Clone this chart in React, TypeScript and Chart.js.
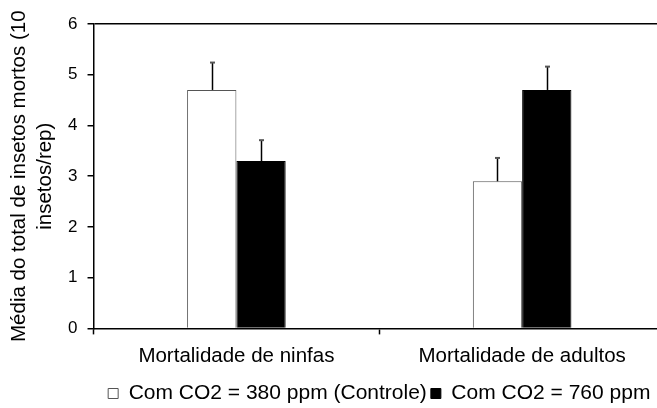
import React, { useEffect, useRef } from "react";
import { Chart, registerables } from "chart.js";

Chart.register(...registerables);

const categories = ["Mortalidade de ninfas", "Mortalidade de adultos"];
const seriesNames = ["Com CO2 = 380 ppm (Controle)", "Com CO2 = 760 ppm"];
const values380 = [4.7, 2.9];
const errors380 = [0.54, 0.46];
const values760 = [3.3, 4.7];
const errors760 = [0.41, 0.46];
const yMin = 0;
const yMax = 6;
const yStep = 1;
const yTitle = ["Média do total de insetos mortos (10", "insetos/rep)"];

const FONT = "'Liberation Sans', Arial, sans-serif";

const errorBarPlugin = {
  id: "errorBars",
  afterDatasetsDraw(chart: any) {
    const ctx = chart.ctx;
    const yScale = chart.scales.y;
    chart.data.datasets.forEach((ds: any, di: number) => {
      const meta = chart.getDatasetMeta(di);
      const errs: number[] = ds.errors || [];
      meta.data.forEach((bar: any, i: number) => {
        const v = ds.data[i];
        const e = errs[i];
        if (e == null) return;
        const x = Math.round(bar.x) + 0.5;
        const yTop = yScale.getPixelForValue(v + e);
        const yBar = bar.y;
        ctx.save();
        ctx.strokeStyle = "#000";
        ctx.lineWidth = 1.5;
        ctx.beginPath();
        ctx.moveTo(x, yBar);
        ctx.lineTo(x, yTop);
        ctx.stroke();
        ctx.strokeStyle = "#555";
        ctx.lineWidth = 2;
        ctx.beginPath();
        ctx.moveTo(x - 2.5, yTop);
        ctx.lineTo(x + 2.5, yTop);
        ctx.stroke();
        ctx.restore();
      });
    });
  },
};

export default function App() {
  const canvasRef = useRef<HTMLCanvasElement | null>(null);

  useEffect(() => {
    document.body.style.margin = "0";
    const canvas = canvasRef.current;
    if (!canvas) return;
    const chart = new Chart(canvas, {
      type: "bar",
      data: {
        labels: categories,
        datasets: [
          {
            label: seriesNames[0],
            data: values380,
            errors: errors380,
            backgroundColor: "#ffffff",
            borderColor: "#555555",
            borderWidth: 1,
            borderSkipped: "start",
          } as any,
          {
            label: seriesNames[1],
            data: values760,
            errors: errors760,
            backgroundColor: "#000000",
            borderColor: "#000000",
            borderWidth: 1,
            borderSkipped: "start",
          } as any,
        ],
      },
      options: {
        responsive: false,
        animation: false,
        devicePixelRatio: 1,
        events: [],
        layout: { padding: { left: 0, right: 0, top: 24, bottom: 0 } },
        datasets: {
          bar: { categoryPercentage: 0.345, barPercentage: 1 },
        },
        plugins: {
          tooltip: { enabled: false },
          legend: {
            position: "bottom",
            fullSize: false,
            labels: {
              boxWidth: 10,
              boxHeight: 10,
              padding: 4,
              color: "#000",
              font: { family: FONT, size: 21 },
            },
          },
        },
        scales: {
          x: {
            border: { color: "#000", width: 1.5 },
            grid: {
              offset: true,
              drawOnChartArea: false,
              drawTicks: true,
              tickLength: 6,
              tickColor: "#000",
              tickWidth: 1.5,
            },
            ticks: {
              color: "#000",
              padding: 10,
              font: { family: FONT, size: 20.5 },
              maxRotation: 0,
            },
          },
          y: {
            min: yMin,
            max: yMax,
            border: { color: "#000", width: 1.5 },
            grid: {
              drawOnChartArea: true,
              color: (c: any) => (c.tick && c.tick.value === yMax ? "#000" : "rgba(0,0,0,0)"),
              lineWidth: 1.5,
              drawTicks: true,
              tickLength: 6,
              tickColor: "#000",
              tickWidth: 1.5,
            },
            ticks: {
              stepSize: yStep,
              color: "#000",
              padding: 10,
              font: { family: FONT, size: 17 },
            },
            title: {
              display: true,
              text: yTitle,
              color: "#000",
              font: { family: FONT, size: 20.5, lineHeight: 1.27 },
              padding: { top: 6, bottom: 0 },
            },
          },
        },
      },
      plugins: [errorBarPlugin],
    } as any);
    return () => chart.destroy();
  }, []);

  return (
    <div
      style={{
        position: "fixed",
        left: 0,
        top: 0,
        width: 657,
        height: 408,
        overflow: "hidden",
        background: "#fff",
      }}
    >
      <canvas ref={canvasRef} width={665} height={414} style={{ display: "block" }} />
    </div>
  );
}
